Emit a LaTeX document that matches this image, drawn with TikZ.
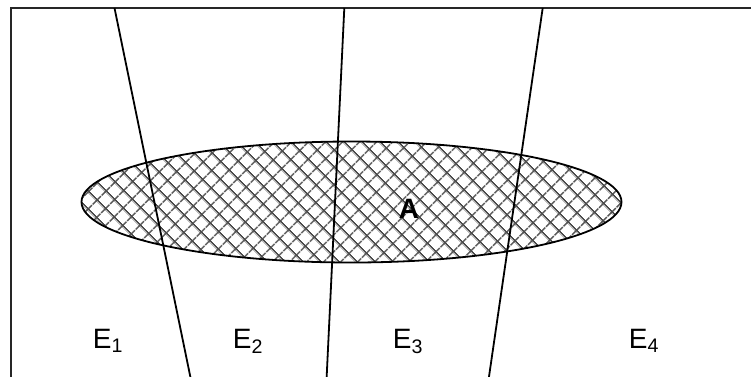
\documentclass[tikz,border=0pt]{standalone}
\usepackage{fontspec}
\setmainfont{Liberation Sans}
\usetikzlibrary{shapes.geometric,patterns.meta}
\begin{document}
\begin{tikzpicture}[x=1pt,y=-1pt,
  region/.style={font=\fontsize{28}{30}\selectfont, inner sep=0pt, anchor=base},
  divider/.style={line width=1.8pt, black},
  frameline/.style={line width=2.2pt, black!85},
  setA/.style={ellipse, inner sep=0pt, draw, line width=1.8pt,
    minimum width=540pt, minimum height=121pt,
    pattern={Hatch[angle=45,distance=13pt,line width=1.6pt]}, pattern color=black!70}]
\useasboundingbox (0,0) rectangle (751,376);
\node[setA] (A) at (351.5,202) {};
\node[font=\fontsize{28}{30}\selectfont\bfseries, inner sep=0pt, anchor=base] (lblA) at (409,218) {A};
% frame
\coordinate (fbl) at (11,380);
\coordinate (ftl) at (11,8);
\coordinate (ftr) at (755,8);
\draw[frameline] (fbl) -- (ftl) -- (ftr);
% dividers
\coordinate (t1) at (114.5,8);
\coordinate (b1) at (191,380);
\coordinate (t2) at (344.3,8);
\coordinate (b2) at (326.5,380);
\coordinate (t3) at (542.7,8);
\coordinate (b3) at (488.5,380);
\draw[divider] (t1) -- (b1);
\draw[divider] (t2) -- (b2);
\draw[divider] (t3) -- (b3);
% region labels
\node[region] (E1) at (108,348) {E\textsubscript{1}};
\node[region] (E2) at (248,348) {E\textsubscript{2}};
\node[region] (E3) at (408,348) {E\textsubscript{3}};
\node[region] (E4) at (644,348) {E\textsubscript{4}};
\end{tikzpicture}
\end{document}
